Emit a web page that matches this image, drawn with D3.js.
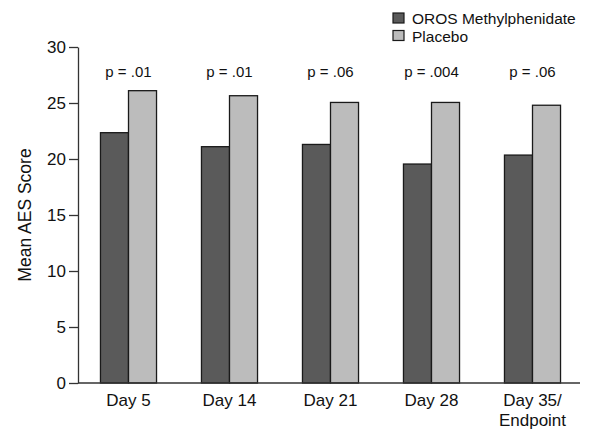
<!DOCTYPE html>
<html>
<head>
<meta charset="utf-8">
<script src="https://cdn.jsdelivr.net/npm/d3@7"></script>
<style>
  body { margin: 0; background: #fff; }
  svg text { font-family: "Liberation Sans", Arial, sans-serif; fill: #111; }
</style>
</head>
<body>
<div id="chart"></div>
<script>
// data
const days = ['Day 5', 'Day 14', 'Day 21', 'Day 28', 'Day 35/\nEndpoint'];
const oros = [22.35, 21.1, 21.3, 19.55, 20.35];
const placebo = [26.1, 25.65, 25.05, 25.05, 24.8];
const pValues = ['p = .01', 'p = .01', 'p = .06', 'p = .004', 'p = .06'];
const seriesNames = ['OROS Methylphenidate', 'Placebo'];
const yTicks = [0, 5, 10, 15, 20, 25, 30];

const W = 590, H = 429;
const colors = ['#5a5a5a', '#bcbcbc'];

const svg = d3.select('#chart')
  .append('svg')
  .attr('width', W)
  .attr('height', H);

// scales
const x = d3.scaleBand()
  .domain(days)
  .range([78, 583])
  .paddingInner(0.445)
  .paddingOuter(0.2225);

const x1 = d3.scaleBand()
  .domain(seriesNames)
  .range([0, x.bandwidth()]);

const y = d3.scaleLinear()
  .domain([0, 30])
  .range([383, 47]);

// bars
const groups = svg.selectAll('.grp')
  .data(days)
  .join('g')
  .attr('class', 'grp')
  .attr('transform', d => `translate(${x(d)},0)`);

groups.selectAll('rect')
  .data((d, i) => [oros[i], placebo[i]].map((v, k) => ({ name: seriesNames[k], v })))
  .join('rect')
  .attr('x', d => x1(d.name))
  .attr('y', d => y(d.v))
  .attr('width', x1.bandwidth())
  .attr('height', d => y(0) - y(d.v))
  .attr('fill', (d, k) => colors[k])
  .attr('stroke', '#1a1a1a')
  .attr('stroke-width', 1.3);

// p-value labels
svg.selectAll('.pval')
  .data(days)
  .join('text')
  .attr('class', 'pval')
  .attr('x', d => x(d) + x.bandwidth() / 2)
  .attr('y', 77)
  .attr('text-anchor', 'middle')
  .style('font-size', '15px')
  .text((d, i) => pValues[i]);

// y axis
const yAxis = svg.append('g')
  .attr('transform', 'translate(78,0)')
  .call(d3.axisLeft(y).tickValues(yTicks).tickSize(9).tickPadding(3).tickSizeOuter(0));
yAxis.selectAll('path, line').attr('stroke', '#333').attr('stroke-width', 1.3);
yAxis.selectAll('text').style('font-size', '17px').attr('fill', '#111')
  .style('font-family', '"Liberation Sans", Arial, sans-serif');

// x axis baseline
svg.append('line')
  .attr('x1', x.range()[0])
  .attr('x2', x.range()[1] - 3)
  .attr('y1', y(0))
  .attr('y2', y(0))
  .attr('stroke', '#333')
  .attr('stroke-width', 1.3);

// category labels
svg.selectAll('.cat')
  .data(days)
  .join('text')
  .attr('class', 'cat')
  .attr('text-anchor', 'middle')
  .attr('x', d => x(d) + x.bandwidth() / 2)
  .attr('y', 406)
  .style('font-size', '17px')
  .each(function(d) {
    const lines = d.split('\n');
    d3.select(this).selectAll('tspan')
      .data(lines)
      .join('tspan')
      .attr('x', x(d) + x.bandwidth() / 2)
      .attr('dy', (l, i) => i === 0 ? 0 : 20)
      .text(l => l);
  });

// y title
svg.append('text')
  .attr('transform', `translate(31,${(y(0) + y(30)) / 2}) rotate(-90)`)
  .attr('text-anchor', 'middle')
  .style('font-size', '17.5px')
  .text('Mean AES Score');

// legend
const legend = svg.selectAll('.leg')
  .data(seriesNames)
  .join('g')
  .attr('class', 'leg')
  .attr('transform', (d, i) => `translate(393,${13 + i * 17.5})`);

legend.append('rect')
  .attr('width', 11)
  .attr('height', 10)
  .attr('fill', (d, i) => colors[i])
  .attr('stroke', '#1a1a1a')
  .attr('stroke-width', 1.2);

legend.append('text')
  .attr('x', 19)
  .attr('y', 11)
  .style('font-size', '15.5px')
  .text(d => d);
</script>
</body>
</html>
